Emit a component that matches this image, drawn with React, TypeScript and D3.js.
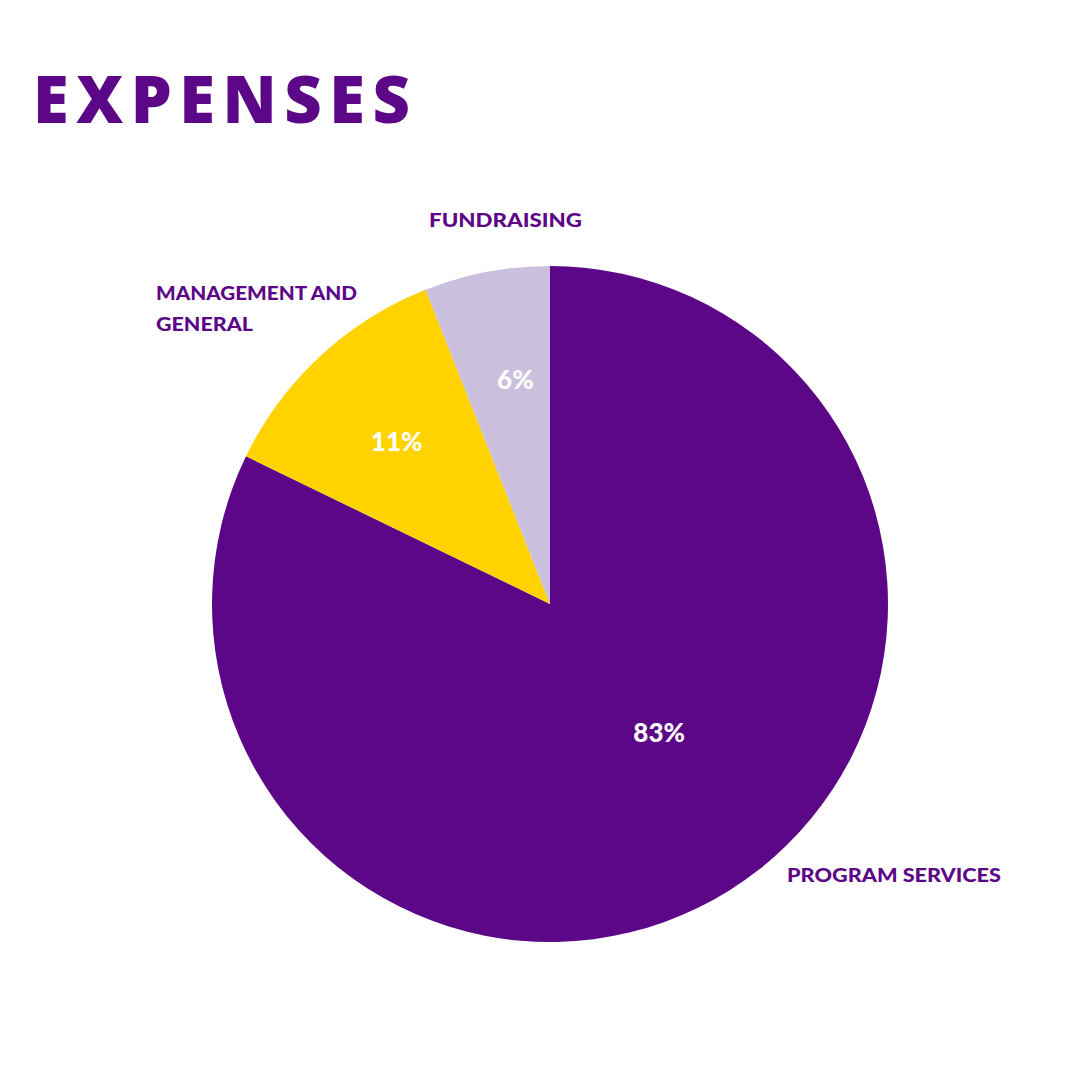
import React from "react";
import * as d3 from "d3";

const categories = ["Program Services", "Management and General", "Fundraising"];
const values = [82.2, 11.8, 6.0];
const percentLabels = ["83%", "11%", "6%"];
const colors = ["#5C0787", "#FFD200", "#CBBFDE"];

const W = 1080;
const H = 1080;
const cx = 550;
const cy = 604;
const R = 338;
const PURPLE = "#5C0787";

export default function App() {
  const pie = d3.pie<number>().sort(null).value((d) => d)(values);
  const arc = d3.arc<d3.PieArcDatum<number>>().innerRadius(0).outerRadius(R);
  // label radius fraction and angular nudge per slice
  const labelR = [0.5, 0.66, 0.67];
  const labelNudge = [-0.143, -0.01, 0.035];
  return (
    <svg width={W} height={H} style={{ display: "block", position: "absolute", left: 0, top: 0 }}>
      <rect width={W} height={H} fill="#fff" />
      <text
        x={33}
        y={123}
        fill={PURPLE}
        fontFamily="'Open Sans', sans-serif"
        fontWeight={800}
        fontSize={65}
        textLength={377}
        lengthAdjust="spacing"
      >
        EXPENSES
      </text>
      <g transform={`translate(${cx},${cy})`}>
        {pie.map((p, i) => (
          <path key={i} d={arc(p) || ""} fill={colors[i]} />
        ))}
        {pie.map((p, i) => {
          const a = (p.startAngle + p.endAngle) / 2 + labelNudge[i];
          const r = R * labelR[i];
          const x = Math.sin(a) * r;
          const y = -Math.cos(a) * r;
          return (
            <text
              key={"l" + i}
              x={x}
              y={y}
              dy="0.35em"
              textAnchor="middle"
              fill="#fff"
              fontFamily="Lato, sans-serif"
              fontWeight={900}
              fontSize={26}
            >
              {percentLabels[i]}
            </text>
          );
        })}
      </g>
      <g fill={PURPLE} fontFamily="Lato, sans-serif" fontWeight={900} fontSize={18}>
        <text x={429} y={227} textLength={153} lengthAdjust="spacingAndGlyphs">
          {categories[2].toUpperCase()}
        </text>
        <text x={156} y={300} textLength={201} lengthAdjust="spacingAndGlyphs">
          MANAGEMENT AND
        </text>
        <text x={156} y={331} textLength={97} lengthAdjust="spacingAndGlyphs">
          GENERAL
        </text>
        <text x={787} y={882} textLength={214} lengthAdjust="spacingAndGlyphs">
          {categories[0].toUpperCase()}
        </text>
      </g>
    </svg>
  );
}
